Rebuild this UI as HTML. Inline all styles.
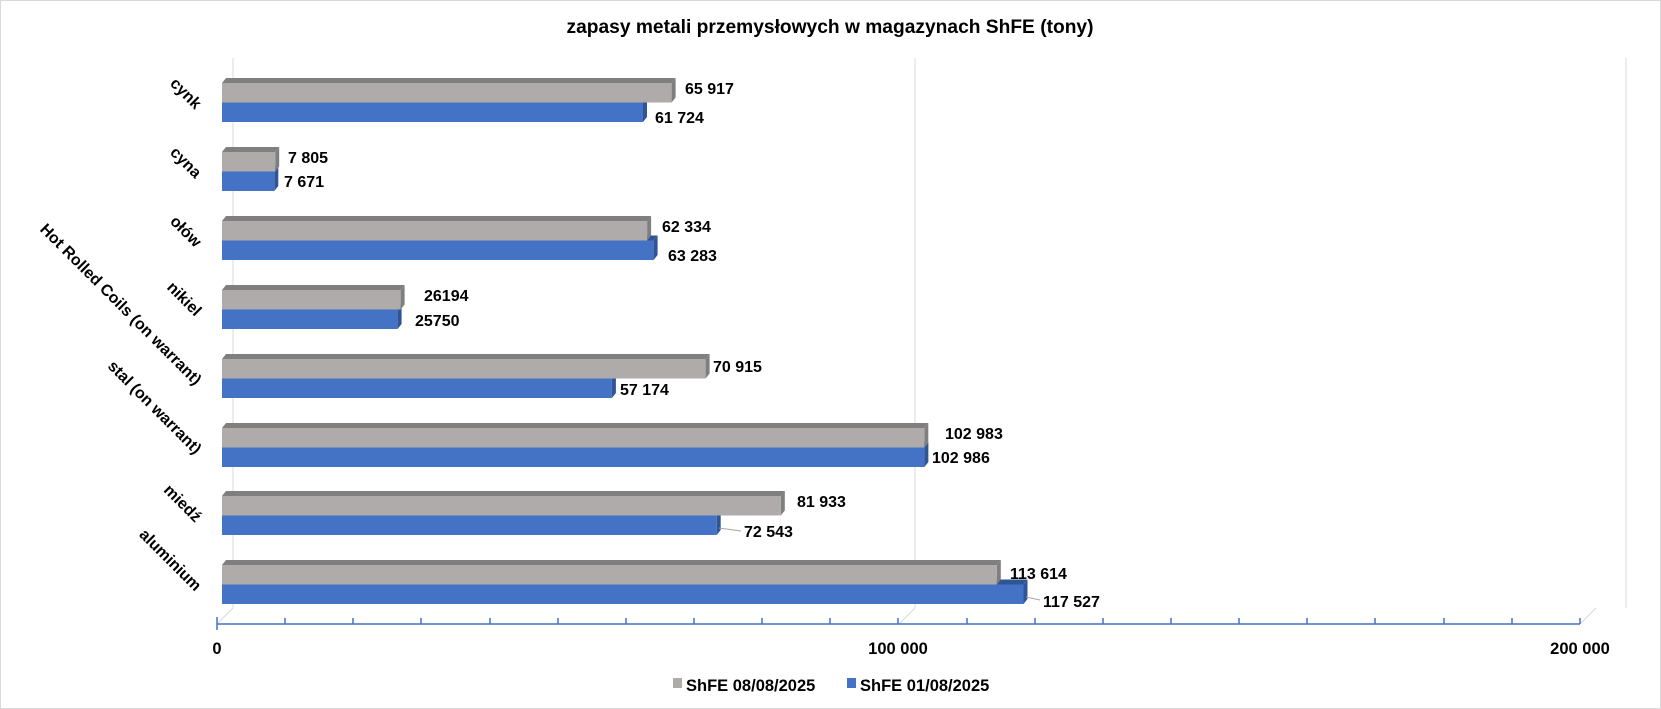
<!DOCTYPE html>
<html><head><meta charset="utf-8"><style>
html,body{margin:0;padding:0;background:#fff}
svg{display:block;font-family:"Liberation Sans",sans-serif}
</style></head><body>
<svg width="1661" height="709" viewBox="0 0 1661 709" xmlns="http://www.w3.org/2000/svg">
<rect x="0.5" y="0.5" width="1660" height="708" fill="#fff" stroke="#d9d9d9"/>
<text x="830" y="33" font-size="19.5" font-weight="bold" text-anchor="middle" fill="#000" textLength="527" lengthAdjust="spacingAndGlyphs">zapasy metali przemysłowych w magazynach ShFE (tony)</text>
<!-- back gridlines -->
<g stroke="#d9d9d9" stroke-width="1" fill="none">
<line x1="233" y1="58" x2="233" y2="608"/>
<line x1="915" y1="58" x2="915" y2="608"/>
<line x1="1626" y1="58" x2="1626" y2="608"/>
<line x1="217" y1="624" x2="233" y2="608"/>
<line x1="1580" y1="624" x2="1596" y2="608"/>
<line x1="899" y1="624" x2="915" y2="608"/>
</g>
<!-- axis -->
<g stroke="#4472c4" stroke-width="1.5">
<line x1="217" y1="624" x2="1580" y2="624"/>
<line x1="217" y1="617" x2="217" y2="630"/>
<line x1="285" y1="618" x2="285" y2="624"/><line x1="353" y1="618" x2="353" y2="624"/><line x1="421" y1="618" x2="421" y2="624"/><line x1="490" y1="618" x2="490" y2="624"/><line x1="558" y1="618" x2="558" y2="624"/><line x1="626" y1="618" x2="626" y2="624"/><line x1="694" y1="618" x2="694" y2="624"/><line x1="762" y1="618" x2="762" y2="624"/><line x1="830" y1="618" x2="830" y2="624"/><line x1="898" y1="618" x2="898" y2="624"/><line x1="967" y1="618" x2="967" y2="624"/><line x1="1035" y1="618" x2="1035" y2="624"/><line x1="1103" y1="618" x2="1103" y2="624"/><line x1="1171" y1="618" x2="1171" y2="624"/><line x1="1239" y1="618" x2="1239" y2="624"/><line x1="1307" y1="618" x2="1307" y2="624"/><line x1="1375" y1="618" x2="1375" y2="624"/><line x1="1444" y1="618" x2="1444" y2="624"/><line x1="1512" y1="618" x2="1512" y2="624"/><line x1="1580" y1="618" x2="1580" y2="624"/>
</g>
<g font-size="16.5" font-weight="bold" fill="#000" text-anchor="middle">
<text x="217" y="654">0</text>
<text x="898" y="654">100 000</text>
<text x="1580" y="654">200 000</text>
</g>

<!-- bars -->
<g font-size="16" font-weight="bold" fill="#000">
<g transform="translate(0,83)">
<polygon points="222,19.5 226,14.5 647,14.5 643,19.5" fill="#2f5597"/><polygon points="643,19.5 647,14.5 647,34 643,39" fill="#2f5597"/><rect x="222" y="19.5" width="421" height="19.5" fill="#4472c4"/>
<polygon points="222,0 226,-5 675.6,-5 671.6,0" fill="#7f7f7f"/><polygon points="671.6,0 675.6,-5 675.6,14.5 671.6,19.5" fill="#7f7f7f"/><rect x="222" y="0" width="449.6" height="19.5" fill="#afabab"/>
<text x="685" y="11">65 917</text><text x="655" y="40">61 724</text>
<text transform="translate(195,27) rotate(45)" text-anchor="end">cynk</text>
</g>
<g transform="translate(0,152)">
<polygon points="222,19.5 226,14.5 278.3,14.5 274.3,19.5" fill="#2f5597"/><polygon points="274.3,19.5 278.3,14.5 278.3,34 274.3,39" fill="#2f5597"/><rect x="222" y="19.5" width="52.3" height="19.5" fill="#4472c4"/>
<polygon points="222,0 226,-5 279.2,-5 275.2,0" fill="#7f7f7f"/><polygon points="275.2,0 279.2,-5 279.2,14.5 275.2,19.5" fill="#7f7f7f"/><rect x="222" y="0" width="53.2" height="19.5" fill="#afabab"/>
<text x="288" y="11">7 805</text><text x="284" y="35">7 671</text>
<text transform="translate(195,27) rotate(45)" text-anchor="end">cyna</text>
</g>
<g transform="translate(0,221)">
<polygon points="222,19.5 226,14.5 657.6,14.5 653.6,19.5" fill="#2f5597"/><polygon points="653.6,19.5 657.6,14.5 657.6,34 653.6,39" fill="#2f5597"/><rect x="222" y="19.5" width="431.6" height="19.5" fill="#4472c4"/>
<polygon points="222,0 226,-5 651.1,-5 647.1,0" fill="#7f7f7f"/><polygon points="647.1,0 651.1,-5 651.1,14.5 647.1,19.5" fill="#7f7f7f"/><rect x="222" y="0" width="425.1" height="19.5" fill="#afabab"/>
<text x="662" y="11">62 334</text><text x="668" y="40">63 283</text>
<text transform="translate(195,27) rotate(45)" text-anchor="end">ołów</text>
</g>
<g transform="translate(0,290)">
<polygon points="222,19.5 226,14.5 401.6,14.5 397.6,19.5" fill="#2f5597"/><polygon points="397.6,19.5 401.6,14.5 401.6,34 397.6,39" fill="#2f5597"/><rect x="222" y="19.5" width="175.6" height="19.5" fill="#4472c4"/>
<polygon points="222,0 226,-5 404.6,-5 400.6,0" fill="#7f7f7f"/><polygon points="400.6,0 404.6,-5 404.6,14.5 400.6,19.5" fill="#7f7f7f"/><rect x="222" y="0" width="178.6" height="19.5" fill="#afabab"/>
<text x="424" y="11">26194</text><text x="415" y="36">25750</text>
<text transform="translate(195,27) rotate(45)" text-anchor="end">nikiel</text>
</g>
<g transform="translate(0,359)">
<polygon points="222,19.5 226,14.5 615.9,14.5 611.9,19.5" fill="#2f5597"/><polygon points="611.9,19.5 615.9,14.5 615.9,34 611.9,39" fill="#2f5597"/><rect x="222" y="19.5" width="389.9" height="19.5" fill="#4472c4"/>
<polygon points="222,0 226,-5 709.6,-5 705.6,0" fill="#7f7f7f"/><polygon points="705.6,0 709.6,-5 709.6,14.5 705.6,19.5" fill="#7f7f7f"/><rect x="222" y="0" width="483.6" height="19.5" fill="#afabab"/>
<text x="713" y="13">70 915</text><text x="620" y="36">57 174</text>
<text transform="translate(195,27) rotate(45)" text-anchor="end">Hot Rolled Coils (on warrant)</text>
</g>
<g transform="translate(0,428)">
<polygon points="222,19.5 226,14.5 928.4,14.5 924.4,19.5" fill="#2f5597"/><polygon points="924.4,19.5 928.4,14.5 928.4,34 924.4,39" fill="#2f5597"/><rect x="222" y="19.5" width="702.4" height="19.5" fill="#4472c4"/>
<polygon points="222,0 226,-5 928.3,-5 924.3,0" fill="#7f7f7f"/><polygon points="924.3,0 928.3,-5 928.3,14.5 924.3,19.5" fill="#7f7f7f"/><rect x="222" y="0" width="702.3" height="19.5" fill="#afabab"/>
<text x="945" y="11">102 983</text><text x="932" y="35">102 986</text>
<text transform="translate(195,27) rotate(45)" text-anchor="end">stal (on warrant)</text>
</g>
<g transform="translate(0,496)">
<polygon points="222,19.5 226,14.5 720.7,14.5 716.7,19.5" fill="#2f5597"/><polygon points="716.7,19.5 720.7,14.5 720.7,34 716.7,39" fill="#2f5597"/><rect x="222" y="19.5" width="494.7" height="19.5" fill="#4472c4"/>
<polygon points="222,0 226,-5 784.8,-5 780.8,0" fill="#7f7f7f"/><polygon points="780.8,0 784.8,-5 784.8,14.5 780.8,19.5" fill="#7f7f7f"/><rect x="222" y="0" width="558.8" height="19.5" fill="#afabab"/>
<line x1="719" y1="32" x2="741" y2="35" stroke="#a6a6a6"/>
<text x="797" y="11">81 933</text><text x="744" y="41">72 543</text>
<text transform="translate(195,27) rotate(45)" text-anchor="end">miedź</text>
</g>
<g transform="translate(0,565)">
<polygon points="222,19.5 226,14.5 1027.5,14.5 1023.5,19.5" fill="#2f5597"/><polygon points="1023.5,19.5 1027.5,14.5 1027.5,34 1023.5,39" fill="#2f5597"/><rect x="222" y="19.5" width="801.5" height="19.5" fill="#4472c4"/>
<polygon points="222,0 226,-5 1000.8,-5 996.8,0" fill="#7f7f7f"/><polygon points="996.8,0 1000.8,-5 1000.8,14.5 996.8,19.5" fill="#7f7f7f"/><rect x="222" y="0" width="774.8" height="19.5" fill="#afabab"/>
<line x1="1026" y1="32" x2="1040" y2="35" stroke="#a6a6a6"/>
<text x="1010" y="14">113 614</text><text x="1043" y="42">117 527</text>
<text transform="translate(195,27) rotate(45)" text-anchor="end">aluminium</text>
</g>
</g>

<!-- legend -->
<rect x="673" y="678" width="9" height="10" fill="#afabab"/>
<text x="686" y="691" font-size="16.5" font-weight="bold">ShFE 08/08/2025</text>
<rect x="847" y="678" width="9" height="10" fill="#4472c4"/>
<text x="860" y="691" font-size="16.5" font-weight="bold">ShFE 01/08/2025</text>
</svg>
</body></html>
